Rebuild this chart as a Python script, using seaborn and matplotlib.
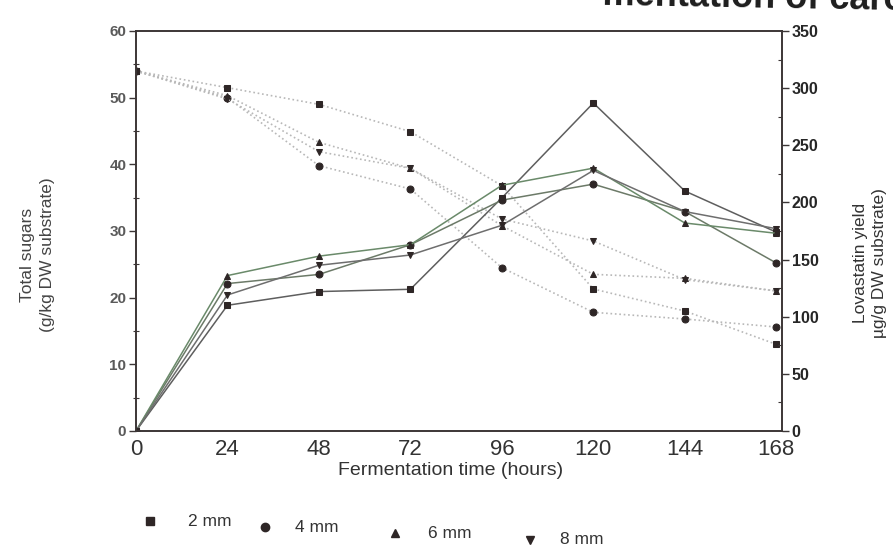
import matplotlib
matplotlib.use("Agg")
import matplotlib.pyplot as plt
import seaborn as sns
from matplotlib.lines import Line2D
from matplotlib.ticker import MultipleLocator
from matplotlib.transforms import Bbox, TransformedBbox

# Fermentation time points (hours)
hours = [0, 24, 48, 72, 96, 120, 144, 168]

# Particle sizes and their marker shapes
sizes = ["2 mm", "4 mm", "6 mm", "8 mm"]
markers = ["s", "o", "^", "v"]

# Total sugars (g/kg DW substrate), left axis, dotted lines
sugar_2mm = [54.0, 51.5, 49.0, 44.9, 36.8, 21.3, 18.0, 13.0]
sugar_4mm = [54.0, 50.0, 39.8, 36.3, 24.5, 17.8, 16.8, 15.6]
sugar_6mm = [54.0, 50.3, 43.3, 39.4, 30.8, 23.5, 22.9, 21.0]
sugar_8mm = [54.0, 49.8, 41.9, 39.4, 31.8, 28.5, 22.7, 21.0]

# Lovastatin yield (ug/g DW substrate), right axis, solid lines
lova_2mm = [0, 110, 122, 124, 204, 287, 210, 174]
lova_4mm = [0, 129, 137, 163, 202, 216, 192, 147]
lova_6mm = [0, 136, 153, 163, 215, 230, 182, 173]
lova_8mm = [0, 119, 145, 154, 180, 228, 192, 177]

sugar_series = [sugar_2mm, sugar_4mm, sugar_6mm, sugar_8mm]
lova_series = [lova_2mm, lova_4mm, lova_6mm, lova_8mm]

sns.set_theme(style="white")
plt.rcParams["font.family"] = ["Liberation Sans", "DejaVu Sans"]

ink = "#2e2626"
solid_colors = ["#5e5e5e", "#6c7a68", "#6a8a6a", "#6e6e6e"]
dotted_color = "#b8b8b8"

fig = plt.figure(figsize=(8.93, 5.56), dpi=100)
W, H = 893, 556
ax = fig.add_axes([136 / W, 1 - 431 / H, (782 - 136) / W, (431 - 31) / H])
ax2 = ax.twinx()

for m, s_vals, l_vals, c in zip(markers, sugar_series, lova_series, solid_colors):
    sns.lineplot(x=hours, y=s_vals, ax=ax, color=dotted_color, linestyle=":",
                 linewidth=1.2, marker=m, markersize=5, markerfacecolor=ink,
                 markeredgecolor=ink, legend=False)
    sns.lineplot(x=hours, y=l_vals, ax=ax2, color=c, linestyle="-",
                 linewidth=1.1, marker=m, markersize=5, markerfacecolor=ink,
                 markeredgecolor=ink, legend=False)

ax.set_xlim(0, 169.5)
ax.set_ylim(0, 60)
ax2.set_ylim(0, 350)

ax.xaxis.set_major_locator(MultipleLocator(24))
ax.xaxis.set_minor_locator(MultipleLocator(12))
ax.yaxis.set_major_locator(MultipleLocator(10))
ax.yaxis.set_minor_locator(MultipleLocator(5))
ax2.yaxis.set_major_locator(MultipleLocator(50))
ax2.yaxis.set_minor_locator(MultipleLocator(25))

spine_color = "#3c3636"
for a in (ax, ax2):
    for sp in a.spines.values():
        sp.set_color(spine_color)
        sp.set_linewidth(1.2)
        sp.set_visible(True)

ax.tick_params(axis="x", which="major", direction="out", length=4, width=1,
               color=spine_color, labelsize=16, labelcolor="#333333", pad=1.5)
ax.tick_params(axis="x", which="minor", direction="out", length=2.5, width=1,
               color=spine_color)
ax.tick_params(axis="y", which="major", direction="out", length=5, width=1,
               color=spine_color, labelsize=11, labelcolor="#5a5a5a", pad=2)
ax.tick_params(axis="y", which="minor", direction="inout", length=4, width=0.8,
               color=spine_color)
ax2.tick_params(axis="y", which="major", direction="out", length=5, width=1,
                color=spine_color, labelsize=11.5, labelcolor="#262626", pad=2)
ax2.tick_params(axis="y", which="minor", direction="in", length=3, width=0.8,
                color=spine_color)
for lab in ax.get_yticklabels():
    lab.set_fontweight("bold")
for lab in ax2.get_yticklabels():
    lab.set_fontweight("bold")
ax.grid(False)
ax2.grid(False)

ax.set_xlabel("Fermentation time (hours)", fontsize=14, color="#333333")
ax.xaxis.set_label_coords(0.4876, -0.078)
ax.set_ylabel("Total sugars\n(g/kg DW substrate)", fontsize=12.5,
              color="#444444", linespacing=1.4)
ax.yaxis.set_label_coords(-0.125, 0.44)
ax2.set_ylabel("Lovastatin yield\nµg/g DW substrate)", fontsize=12.5,
               color="#333333", linespacing=1.3)
ax2.yaxis.set_label_coords(1.11, 0.42)

# Legend row below the plot
legend_marker_x = [150, 265, 395, 530]
legend_text_x = [188, 295, 428, 560]
legend_y = [521, 527, 533, 540]
for lab, m, mx, tx, yy in zip(sizes, markers, legend_marker_x, legend_text_x, legend_y):
    fig.add_artist(Line2D([mx / W], [1 - yy / H], transform=fig.transFigure,
                          marker=m, markersize=6, color=ink, linestyle="none"))
    fig.text(tx / W, 1 - yy / H, lab, fontsize=12.5, color="#333333",
             ha="left", va="center")

# Running title at the top edge of the page
title = fig.text(556 / W, 1 - 10 / H, "fermentation of carob", fontsize=26,
                 fontweight="bold", color="#1e1e1e", ha="left",
                 va="baseline", rotation=-1)
title.set_clip_box(TransformedBbox(Bbox([[600 / W, 0], [1, 1]]), fig.transFigure))

fig.savefig("out.png", dpi=100, facecolor="white")
